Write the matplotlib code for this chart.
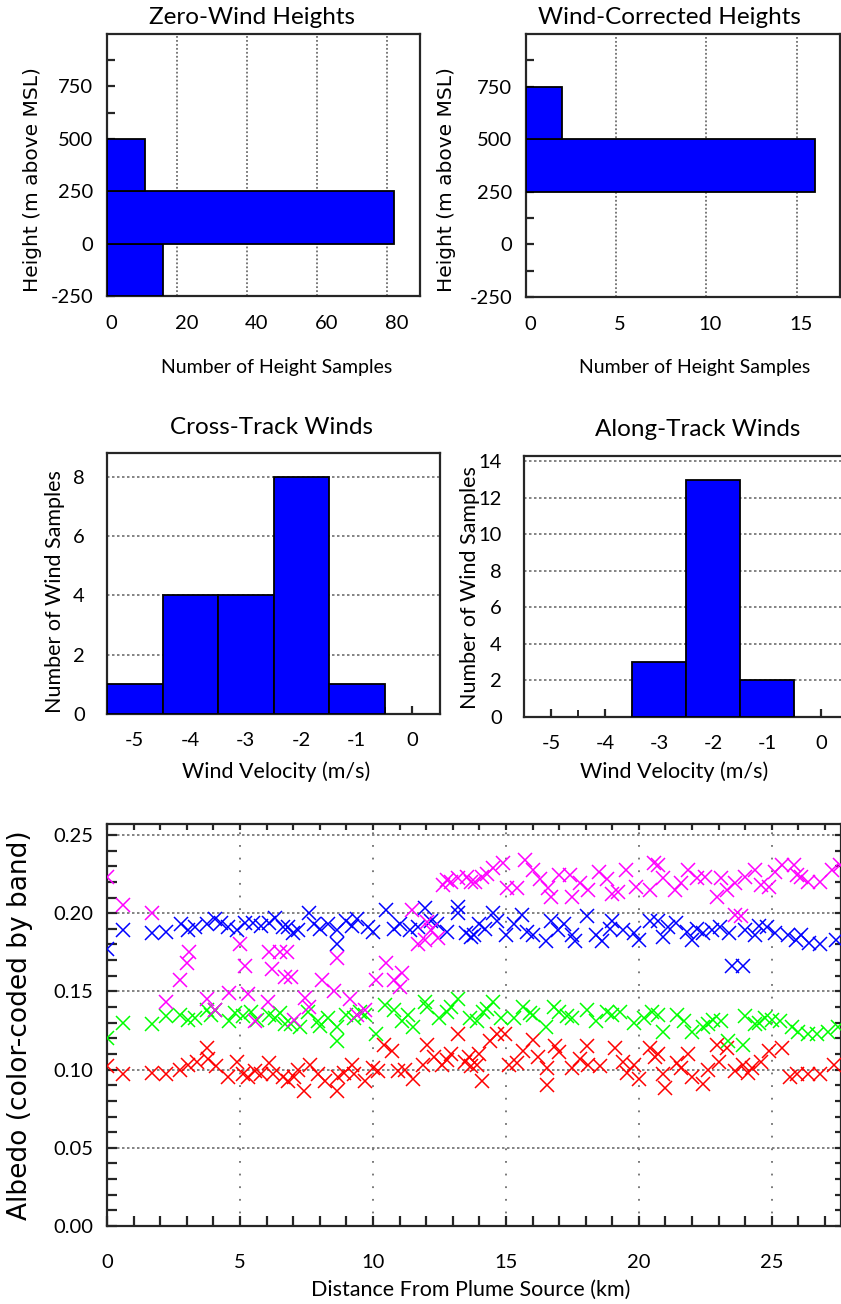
import matplotlib
matplotlib.use("Agg")
import matplotlib.pyplot as plt
import matplotlib.transforms as mtransforms
import numpy as np

W, H = 841, 1304

# ---- height histograms (bins of 250 m) ----
height_edges = [-250, 0, 250, 500]
zero_wind_counts = [16, 82, 11, 0]
wind_corr_counts = [0, 0, 16, 2]

# ---- wind histograms (1 m/s bins) ----
wind_centers = [-5, -4, -3, -2, -1, 0]
cross_track_counts = [1, 4, 4, 8, 1, 0]
along_track_counts = [0, 0, 3, 13, 2, 0]

# ---- albedo vs distance, one list pair per band ----
blue_x = [0.0, 0.6, 1.7, 2.2, 2.8, 3.05, 3.75, 4.05, 4.55, 4.9, 5.2, 5.5, 6.1, 6.3, 6.6,
          6.8, 7.2, 7.6, 7.8, 8.3, 8.65, 8.65, 9.0, 9.4, 9.8, 10.0, 10.5, 11.0, 11.4,
          11.95, 12.2, 12.4, 13.2, 13.2, 13.5, 13.7, 13.8, 14.0, 14.5, 14.65, 15.0, 15.3,
          15.6, 16.0, 16.5, 16.7, 16.95, 17.5, 17.6, 18.05, 18.4, 18.6, 19.0, 19.4, 19.8,
          20.0, 20.4, 20.7, 20.9, 21.4, 21.8, 22.0, 22.4, 22.75, 23.05, 23.4, 23.5, 23.9,
          24.0, 24.35, 24.8, 25.1, 25.6, 25.9, 26.4, 26.8, 27.4,
          3.3, 4.3, 5.8, 7.0, 8.0, 9.2, 10.8, 11.7, 12.8, 14.2, 15.8, 17.2, 18.9, 21.1,
          22.2, 24.5, 26.1]
blue_y = [0.177, 0.189, 0.1875, 0.188, 0.193, 0.189, 0.193, 0.196, 0.191, 0.189, 0.194, 0.194,
          0.194, 0.197, 0.191, 0.191, 0.189, 0.200, 0.193, 0.193, 0.189, 0.180, 0.195, 0.196,
          0.191, 0.188, 0.202, 0.193, 0.189, 0.203, 0.195, 0.193, 0.204, 0.200, 0.1875, 0.185,
          0.186, 0.193, 0.200, 0.195, 0.186, 0.193, 0.199, 0.186, 0.182, 0.195, 0.189, 0.186,
          0.182, 0.198, 0.186, 0.182, 0.195, 0.189, 0.1875, 0.183, 0.195, 0.195, 0.185, 0.194,
          0.188, 0.183, 0.1875, 0.189, 0.191, 0.1875, 0.166, 0.166, 0.189, 0.186, 0.191,
          0.1875, 0.186, 0.183, 0.181, 0.180, 0.183,
          0.191, 0.194, 0.192, 0.187, 0.190, 0.192, 0.190, 0.191, 0.188, 0.190, 0.188, 0.193,
          0.190, 0.191, 0.190, 0.192, 0.186]

green_x = [0.0, 0.6, 1.7, 2.2, 2.75, 3.05, 3.75, 3.9, 4.05, 4.6, 5.1, 5.4, 5.65, 6.1, 6.3, 6.7,
           6.9, 7.25, 7.55, 7.95, 8.3, 8.65, 8.65, 9.0, 9.3, 9.7, 10.1, 10.45, 10.8, 11.1, 11.5,
           11.95, 12.05, 12.5, 12.95, 13.2, 13.65, 13.9, 14.15, 14.5, 14.8, 15.3, 15.65, 16.0,
           16.5, 16.8, 17.0, 17.5, 18.05, 18.4, 19.0, 19.3, 19.8, 20.5, 20.7, 20.9, 21.45,
           21.7, 22.0, 22.4, 22.8, 23.1, 23.35, 23.9, 24.0, 24.35, 24.75, 25.0, 25.3, 25.75,
           26.0, 26.35, 26.7, 27.1, 27.5,
           3.3, 4.8, 6.5, 8.0, 9.5, 11.3, 12.8, 14.3, 15.9, 17.3, 18.8, 20.2, 22.6, 24.5]
green_y = [0.1205, 0.130, 0.129, 0.134, 0.135, 0.132, 0.138, 0.135, 0.138, 0.131, 0.134, 0.1365,
           0.132, 0.135, 0.133, 0.129, 0.129, 0.127, 0.137, 0.131, 0.133, 0.1275, 0.118, 0.135,
           0.133, 0.135, 0.1225, 0.1415, 0.138, 0.131, 0.1275, 0.1435, 0.140, 0.133, 0.140,
           0.145, 0.133, 0.131, 0.137, 0.143, 0.133, 0.133, 0.140, 0.135, 0.1275, 0.140, 0.137,
           0.133, 0.138, 0.131, 0.135, 0.1365, 0.130, 0.1365, 0.135, 0.124, 0.135, 0.131, 0.124,
           0.127, 0.132, 0.131, 0.118, 0.116, 0.134, 0.129, 0.133, 0.132, 0.131, 0.1275, 0.124,
           0.1225, 0.1225, 0.124, 0.127,
           0.133, 0.136, 0.136, 0.128, 0.137, 0.135, 0.137, 0.139, 0.136, 0.134, 0.137, 0.133,
           0.129, 0.130]

red_x = [0.0, 0.6, 1.7, 2.2, 2.75, 3.05, 3.75, 3.8, 4.1, 4.55, 4.9, 5.1, 5.3, 5.55, 6.1, 6.25,
         6.6, 6.8, 7.05, 7.4, 7.65, 7.95, 8.2, 8.65, 8.7, 9.2, 9.3, 9.7, 10.0, 10.4, 10.7,
         10.95, 11.5, 11.9, 12.05, 12.3, 12.6, 12.95, 13.2, 13.45, 13.7, 13.9, 14.0, 14.1,
         14.4, 14.65, 14.95, 15.1, 15.65, 16.0, 16.55, 16.55, 16.85, 17.0, 17.5, 18.05, 18.1,
         18.55, 19.1, 19.4, 19.55, 20.0, 20.4, 20.6, 20.7, 20.9, 21.0, 21.45, 21.85, 22.0,
         22.4, 22.95, 23.0, 23.3, 23.6, 23.9, 24.25, 24.6, 24.9, 25.4, 25.7, 25.95, 26.35,
         26.8, 27.35,
         3.4, 5.8, 7.2, 8.9, 10.2, 11.2, 12.8, 13.6, 15.4, 16.2, 17.8, 19.8, 21.6, 22.6, 24.1]
red_y = [0.102, 0.097, 0.098, 0.097, 0.100, 0.103, 0.114, 0.1065, 0.102, 0.095, 0.105, 0.097,
         0.095, 0.099, 0.1045, 0.097, 0.095, 0.0925, 0.095, 0.086, 0.103, 0.097, 0.0925, 0.086,
         0.095, 0.103, 0.097, 0.0925, 0.101, 0.116, 0.112, 0.099, 0.094, 0.103, 0.116, 0.108,
         0.103, 0.110, 0.1225, 0.105, 0.102, 0.103, 0.110, 0.0925, 0.118, 0.1225, 0.1225,
         0.103, 0.112, 0.119, 0.101, 0.090, 0.115, 0.111, 0.101, 0.115, 0.103, 0.102, 0.114,
         0.105, 0.098, 0.094, 0.114, 0.108, 0.110, 0.097, 0.0885, 0.1045, 0.110, 0.095, 0.0905,
         0.116, 0.105, 0.114, 0.099, 0.103, 0.101, 0.105, 0.112, 0.114, 0.095, 0.097, 0.097,
         0.097, 0.103,
         0.105, 0.097, 0.100, 0.098, 0.099, 0.100, 0.106, 0.108, 0.104, 0.108, 0.107, 0.103,
         0.101, 0.100, 0.098]

nir_x = [0.0, 0.6, 1.7, 2.2, 2.75, 3.0, 3.1, 3.75, 4.05, 4.6, 5.0, 5.2, 5.3, 5.55, 6.05, 6.1,
         6.2, 6.5, 6.7, 6.75, 6.9, 7.05, 7.45, 7.6, 8.1, 8.55, 8.65, 9.15, 9.4, 9.7, 10.1,
         10.5, 10.8, 11.0, 11.1, 11.45, 11.7, 11.95, 12.05, 12.2, 12.45, 12.65, 12.95, 13.2,
         13.55, 13.7, 13.85, 14.1, 14.5, 14.9, 15.05, 15.4, 15.7, 16.0, 16.6, 16.7, 17.0,
         17.4, 17.5, 18.1, 18.5, 19.0, 19.2, 19.5, 19.9, 20.4, 20.55, 20.7, 20.9, 21.35,
         21.85, 22.2, 22.5, 22.95, 23.1, 23.6, 23.6, 23.85, 24.0, 24.35, 24.6, 24.9, 25.4,
         25.85, 25.95, 26.35, 26.8, 27.25, 27.55,
         12.8, 14.3, 16.3, 17.8, 18.8, 21.6, 23.3, 25.1, 26.1]
nir_y = [0.223, 0.205, 0.200, 0.1435, 0.1575, 0.168, 0.175, 0.145, 0.138, 0.149, 0.180, 0.166,
         0.148, 0.131, 0.143, 0.175, 0.164, 0.175, 0.159, 0.175, 0.1595, 0.132, 0.146, 0.140,
         0.1575, 0.150, 0.1715, 0.145, 0.135, 0.138, 0.1575, 0.168, 0.1575, 0.153, 0.162,
         0.202, 0.180, 0.183, 0.1945, 0.189, 0.184, 0.218, 0.220, 0.2225, 0.223, 0.220, 0.220,
         0.223, 0.229, 0.232, 0.216, 0.216, 0.234, 0.2275, 0.216, 0.2105, 0.2245, 0.2245,
         0.2105, 0.215, 0.2265, 0.212, 0.2135, 0.2275, 0.217, 0.215, 0.232, 0.231, 0.2225,
         0.215, 0.2275, 0.2225, 0.223, 0.2105, 0.2225, 0.219, 0.199, 0.198, 0.223, 0.2275,
         0.218, 0.217, 0.231, 0.231, 0.2245, 0.220, 0.220, 0.2275, 0.231,
         0.221, 0.225, 0.222, 0.219, 0.222, 0.219, 0.215, 0.226, 0.223]

TICK_FONT = "Lato"
LABEL_FONT = "Lato"
WIDE_FONT = "DejaVu Sans"
SPINE = "#262626"
GRID = "#6e6e6e"


def rect(left, top, right, bottom):
    return [left / W, 1 - bottom / H, (right - left) / W, (bottom - top) / H]


def ftext(fig, px, py, s, **kw):
    fig.text(px / W, 1 - py / H, s, ha="center", va="center", **kw)


def style_frame(ax):
    for sp in ax.spines.values():
        sp.set_color(SPINE)
        sp.set_linewidth(1.6)
    for lab in ax.get_xticklabels() + ax.get_yticklabels():
        lab.set_fontfamily(TICK_FONT)
        lab.set_fontsize(14.5)


def shift_xlabels(fig, ax, dx_px, ha="center"):
    off = mtransforms.ScaledTranslation(dx_px / 100, 0, fig.dpi_scale_trans)
    for lab in ax.get_xticklabels():
        lab.set_transform(lab.get_transform() + off)
        lab.set_ha(ha)


def height_hist(fig, box, counts, xmax, xgrid):
    ax = fig.add_axes(rect(*box))
    for lo, c in zip(height_edges, counts):
        if c > 0:
            ax.barh(lo, c, height=250, align="edge", color="#0000ff",
                    edgecolor="black", linewidth=1.3, zorder=3)
    ax.set_xlim(0, xmax)
    ax.set_ylim(-250, 1000)
    for g in xgrid:
        ax.axvline(g, color=GRID, lw=1.3, ls=(0, (1, 1.2)), zorder=1)
    ax.set_xticks([0] + list(xgrid))
    ax.tick_params(axis="x", length=0, pad=14)
    ax.set_yticks(np.arange(-250, 1000, 125))
    ax.set_yticklabels([str(v) if v % 250 == 0 else "" for v in range(-250, 1000, 125)])
    ax.tick_params(axis="y", direction="in", length=6, width=1.6, color=SPINE, pad=10)
    style_frame(ax)
    return ax


def wind_hist(fig, box, counts, ymax, ygrid):
    ax = fig.add_axes(rect(*box))
    for c, n in zip(wind_centers, counts):
        if n > 0:
            ax.bar(c, n, width=1.0, color="#0000ff", edgecolor="black",
                   linewidth=1.3, zorder=3)
    ax.set_xlim(-5.5, 0.5)
    ax.set_ylim(0, ymax)
    for g in ygrid:
        ax.axhline(g, color=GRID, lw=1.2, ls=(0, (1.5, 1.5)), zorder=1)
    ax.set_xticks(wind_centers)
    ax.set_xticklabels([str(v) for v in wind_centers])
    ax.set_xticks(np.arange(-5.5, 0.6, 0.5), minor=True)
    ax.tick_params(axis="x", which="major", direction="in", length=6, width=1.6,
                   color=SPINE, pad=13)
    ax.tick_params(axis="x", which="minor", direction="in", length=5, width=1.4,
                   color=SPINE)
    ax.set_yticks([0] + list(ygrid))
    ax.tick_params(axis="y", length=0, pad=16)
    style_frame(ax)
    return ax


fig = plt.figure(figsize=(W / 100, H / 100), dpi=100)

# top row
ax1 = height_hist(fig, (107, 34, 420, 296), zero_wind_counts, 89.5, [20, 40, 60, 80])
shift_xlabels(fig, ax1, -2, ha="left")
ax2 = height_hist(fig, (526, 34, 840, 297), wind_corr_counts, 17.4, [5, 10, 15])
shift_xlabels(fig, ax2, 4)
ftext(fig, 252, 17, "Zero-Wind Heights", fontfamily=LABEL_FONT, fontsize=17.5)
ftext(fig, 669, 17, "Wind-Corrected Heights", fontfamily=LABEL_FONT, fontsize=17.5)
ftext(fig, 277, 367, "Number of Height Samples", fontfamily=LABEL_FONT, fontsize=14)
ftext(fig, 695, 367, "Number of Height Samples", fontfamily=LABEL_FONT, fontsize=14)
ftext(fig, 33, 180, "Height (m above MSL)", fontfamily=WIDE_FONT, fontsize=14.5, rotation=90)
ftext(fig, 447, 180, "Height (m above MSL)", fontfamily=WIDE_FONT, fontsize=14.5, rotation=90)

# middle row
wind_hist(fig, (107, 453, 440, 714), cross_track_counts, 8.8, [2, 4, 6, 8])
wind_hist(fig, (524, 456, 848, 717), along_track_counts, 14.3, [2, 4, 6, 8, 10, 12, 14])
ftext(fig, 271, 428, "Cross-Track Winds", fontfamily=LABEL_FONT, fontsize=17.5)
ftext(fig, 698, 430, "Along-Track Winds", fontfamily=LABEL_FONT, fontsize=17.5)
ftext(fig, 276, 772, "Wind Velocity (m/s)", fontfamily=LABEL_FONT, fontsize=15.5)
ftext(fig, 674, 772, "Wind Velocity (m/s)", fontfamily=LABEL_FONT, fontsize=15.5)
ftext(fig, 55, 592, "Number of Wind Samples", fontfamily=LABEL_FONT, fontsize=15.5, rotation=90)
ftext(fig, 470, 588, "Number of Wind Samples", fontfamily=LABEL_FONT, fontsize=15.5, rotation=90)

# bottom scatter
ax = fig.add_axes(rect(107, 824, 841, 1226))
series = [(red_x, red_y, "#ff0000"), (green_x, green_y, "#00ff00"),
          (blue_x, blue_y, "#0000ff"), (nir_x, nir_y, "#ff00ff")]
for xs, ys, col in series:
    ax.plot(xs, ys, ls="none", marker="x", ms=10.5, mew=1.1, color=col, zorder=3)
ax.set_xlim(0, 27.6)
ax.set_ylim(0, 0.257)
for g in [5, 10, 15, 20, 25]:
    ax.axvline(g, color=GRID, lw=1.3, ls=(0, (1, 6)), zorder=1)
for g in [0.05, 0.10, 0.15, 0.20, 0.25]:
    ax.axhline(g, color=GRID, lw=1.2, ls=(0, (1.5, 1.5)), zorder=1)
ax.set_xticks(np.arange(0, 28, 1))
ax.set_xticklabels([str(v) if v % 5 == 0 else "" for v in range(0, 28)])
yt = np.arange(0, 0.2575, 0.01)
ax.set_yticks(yt)
ax.set_yticklabels([f"{v:.2f}" if i % 5 == 0 else "" for i, v in enumerate(yt)])
ax.tick_params(axis="both", direction="in", length=7, width=1.6, color=SPINE,
               top=True, right=True)
ax.tick_params(axis="x", pad=20)
ax.tick_params(axis="y", pad=10)
for t in ax.xaxis.get_major_ticks() + ax.yaxis.get_major_ticks():
    t.tick2line.set_markersize(4.5)
style_frame(ax)
ftext(fig, 471, 1290, "Distance From Plume Source (km)", fontfamily=LABEL_FONT, fontsize=15.5)
ftext(fig, 20, 1025, "Albedo (color-coded by band)", fontfamily=WIDE_FONT, fontsize=19,
      rotation=90)

fig.savefig("out.png", dpi=100)
